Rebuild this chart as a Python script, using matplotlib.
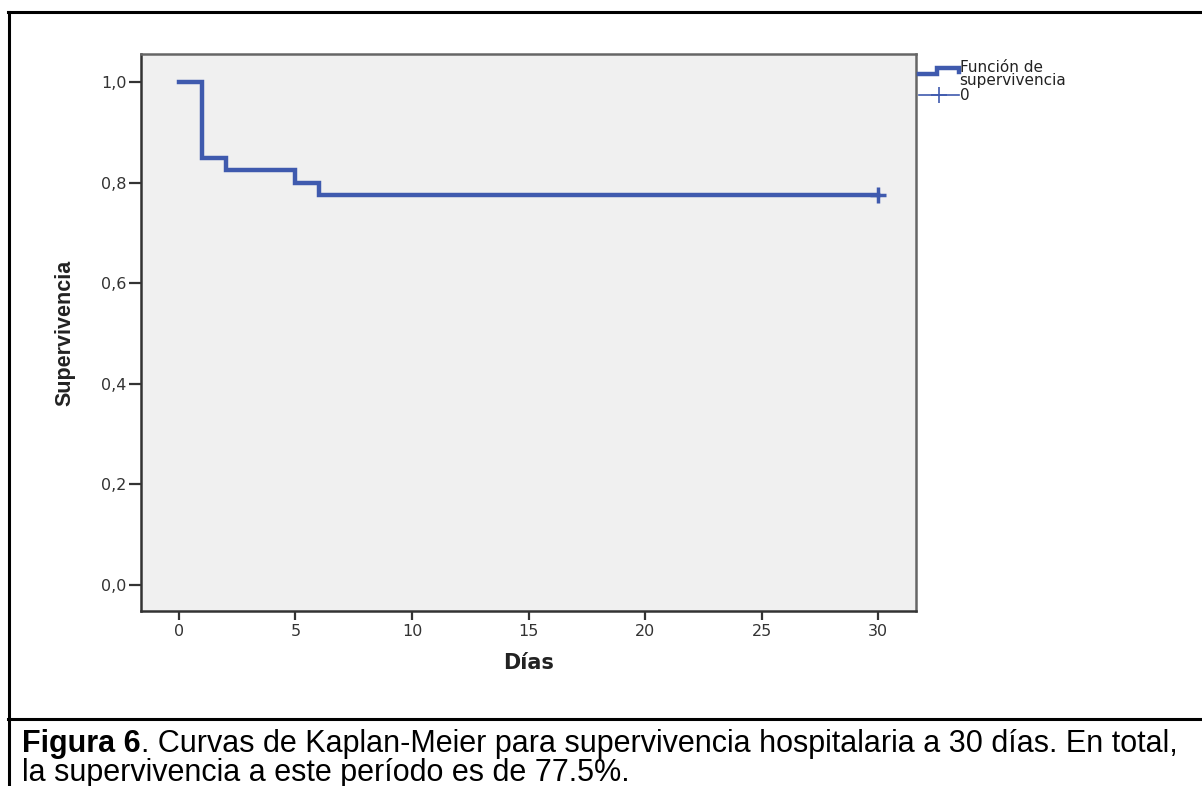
import matplotlib
matplotlib.use("Agg")
import matplotlib.pyplot as plt
from matplotlib.lines import Line2D
from matplotlib.legend_handler import HandlerBase

# Kaplan-Meier steps
dias = [0, 1, 2, 5, 6, 30]
supervivencia = [1.0, 0.85, 0.825, 0.80, 0.775, 0.775]
censura_x = [30]
censura_y = [0.775]

x_ticks = [0, 5, 10, 15, 20, 25, 30]
y_ticks = [0.0, 0.2, 0.4, 0.6, 0.8, 1.0]
y_labels = ["0,0", "0,2", "0,4", "0,6", "0,8", "1,0"]

azul = "#3F5AAE"


class StepHandler(HandlerBase):
    # little step icon like the SPSS legend
    def create_artists(self, legend, orig_handle, xdescent, ydescent,
                       width, height, fontsize, trans):
        xs = [0, 0.45 * width, 0.45 * width, width, width]
        ys = [0.55 * height, 0.55 * height, 1.15 * height, 1.15 * height, 0.75 * height]
        ln = Line2D(xs, ys, color=azul, lw=3.2, solid_joinstyle="miter")
        ln.set_transform(trans)
        return [ln]


fig = plt.figure(figsize=(12.02, 7.86), dpi=100)
ax = fig.add_axes([141 / 1202, 1 - 611 / 786, 775 / 1202, 557 / 786])
ax.set_facecolor("#F0F0F0")

ax.step(dias, supervivencia, where="post", color=azul, lw=3.2,
        solid_joinstyle="miter")
ax.plot(censura_x, censura_y, marker="+", color=azul, ms=11, mew=2.5, ls="none")

ax.set_xlim(-1.63, 31.63)
ax.set_ylim(-0.052, 1.056)
ax.set_xticks(x_ticks)
ax.set_xticklabels([str(t) for t in x_ticks], fontsize=11.5, color="#333333",
                   family="DejaVu Sans")
ax.set_yticks(y_ticks)
ax.set_yticklabels(y_labels, fontsize=11.5, color="#333333", family="DejaVu Sans")
ax.tick_params(axis="y", direction="out", length=8.5, width=1.6, color="#333333", pad=2)
ax.tick_params(axis="x", direction="out", length=6.5, width=1.6, color="#333333", pad=3)
for s in ax.spines.values():
    s.set_color("#666666")
    s.set_linewidth(1.8)
ax.spines["left"].set_color("#333333")
ax.spines["bottom"].set_color("#333333")

ax.set_xlabel("Días", fontsize=15, fontweight="bold", labelpad=10, color="#222222",
              family="DejaVu Sans")
ax.set_ylabel("Supervivencia", fontsize=15.5, fontweight="bold",
              family=["Liberation Sans Narrow", "Liberation Sans", "DejaVu Sans"],
              labelpad=18, color="#222222")

h_step = Line2D([], [], color=azul)
h_cens = Line2D([], [], color=azul, lw=1.2, marker="+", ms=12, mew=1.2)
leg = ax.legend([h_step, h_cens], ["Función de\nsupervivencia", "0"],
                handler_map={h_step: StepHandler()},
                loc="upper left", bbox_to_anchor=(1.0, 0.995),
                frameon=False, prop={"family": "DejaVu Sans", "size": 11},
                handlelength=2.6, handletextpad=0.05, labelspacing=0.0,
                borderaxespad=0.0, borderpad=0.2)
for t in leg.get_texts():
    t.set_linespacing(0.85)
    t.set_color("#222222")

# outer frame of the figure box
fig.add_artist(Line2D([8 / 1202, 1], [1 - 12 / 786, 1 - 12 / 786], color="black", lw=2.2))
fig.add_artist(Line2D([9 / 1202, 9 / 1202], [0, 1 - 12 / 786], color="black", lw=2.2))
fig.add_artist(Line2D([8 / 1202, 1], [1 - 719 / 786, 1 - 719 / 786], color="black", lw=2.2))

# caption
cap_font = ["Liberation Sans", "DejaVu Sans"]
t1 = fig.text(22 / 1202, 1 - 752 / 786, "Figura 6", fontsize=22, fontweight="bold",
              family=cap_font, va="baseline")
fig.canvas.draw()
bb = t1.get_window_extent(renderer=fig.canvas.get_renderer())
fig.text(bb.x1 / 1202, 1 - 752 / 786,
         ". Curvas de Kaplan-Meier para supervivencia hospitalaria a 30 días. En total,",
         fontsize=22, family=cap_font, va="baseline")
fig.text(22 / 1202, 1 - 781 / 786, "la supervivencia a este período es de 77.5%.",
         fontsize=22, family=cap_font, va="baseline")

fig.savefig("out.png", dpi=100)
plt.close(fig)
